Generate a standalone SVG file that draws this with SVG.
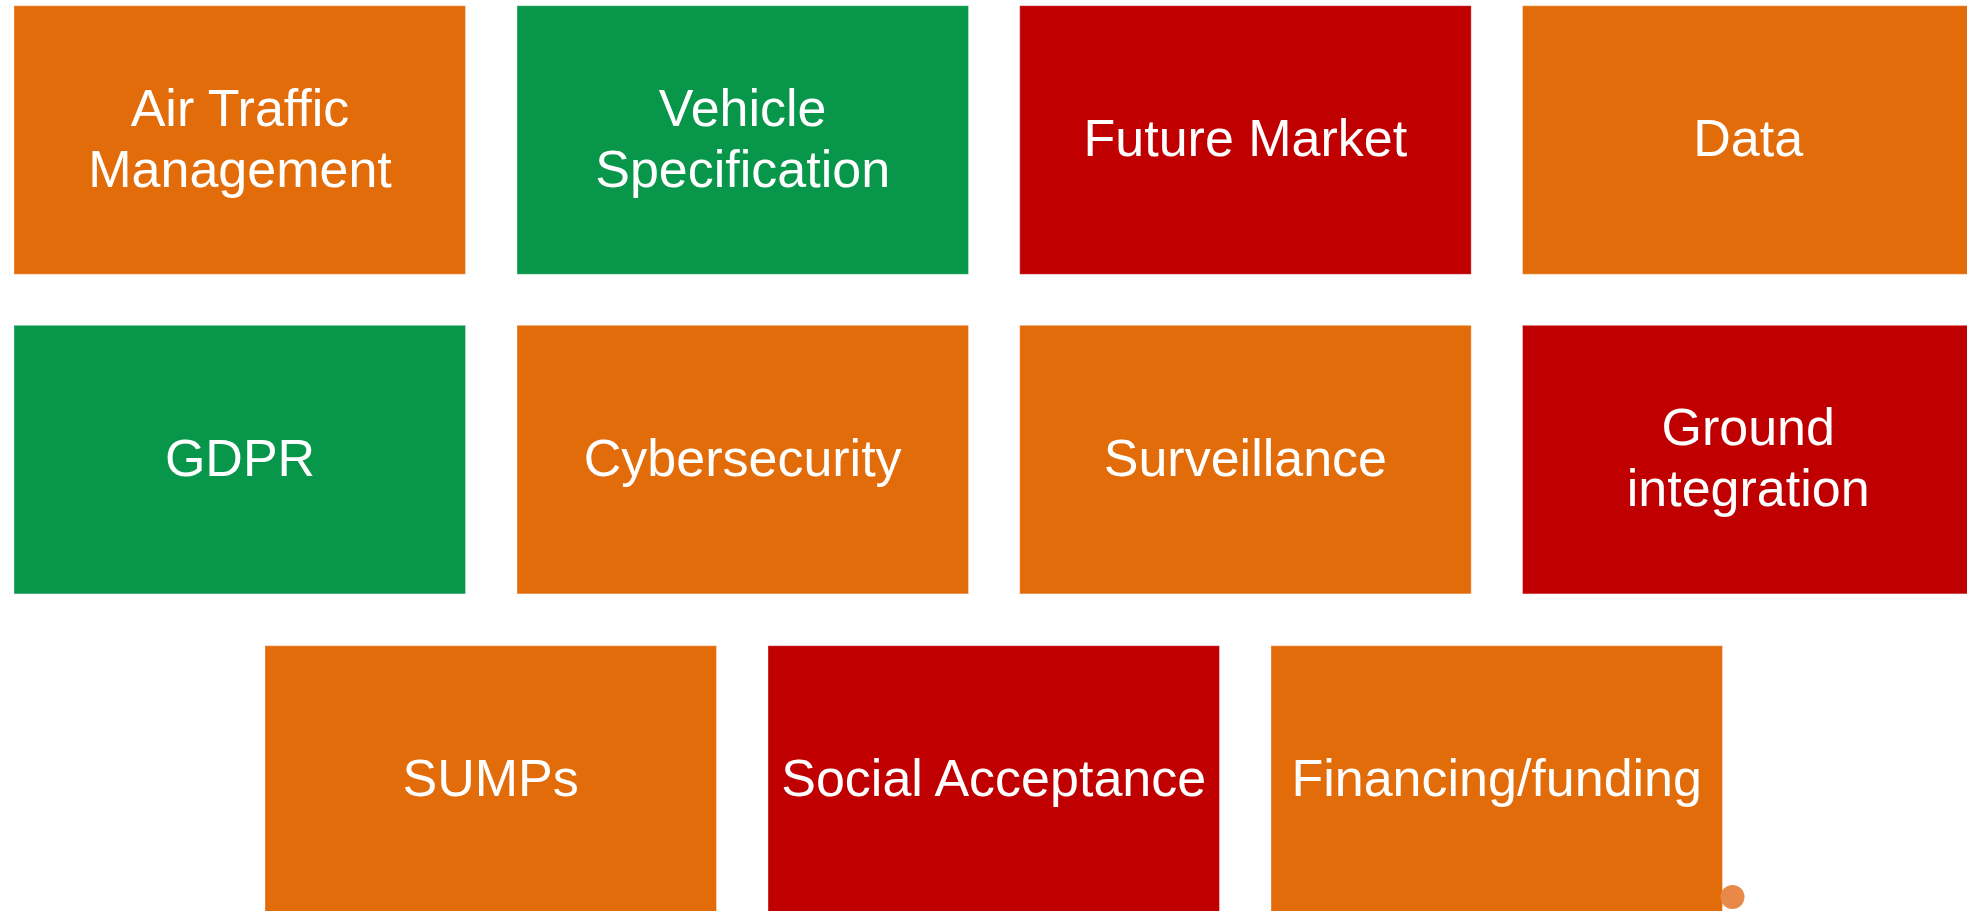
<svg xmlns="http://www.w3.org/2000/svg" width="1967" height="911" viewBox="0 0 1967 911">
<style>
.box{stroke:#ffffff;stroke-opacity:0.35;stroke-width:1}
.o{fill:#E36C0A}
.g{fill:#07964A}
.r{fill:#C00000}
text{font-family:"Liberation Sans",Arial,sans-serif;font-size:52px;fill:#ffffff;text-anchor:middle}
</style>
<rect width="1967" height="911" fill="#ffffff"/>
<g id="nodes">
<g id="n-atm"><rect class="box o" x="14" y="5.7" width="451.5" height="268.6"/><text x="240" y="125.7">Air Traffic</text><text x="240" y="186.7">Management</text></g>
<g id="n-vehicle"><rect class="box g" x="517" y="5.7" width="451.5" height="268.6"/><text x="742.7" y="125.7">Vehicle</text><text x="742.7" y="186.7">Specification</text></g>
<g id="n-future"><rect class="box r" x="1019.7" y="5.7" width="451.5" height="268.6"/><text x="1245.4" y="155.7">Future Market</text></g>
<g id="n-data"><rect class="box o" x="1522.5" y="5.7" width="451.5" height="268.6"/><text x="1748.2" y="155.7">Data</text></g>
<g id="n-gdpr"><rect class="box g" x="14" y="325.3" width="451.5" height="268.6"/><text x="240" y="475.5">GDPR</text></g>
<g id="n-cyber"><rect class="box o" x="517" y="325.3" width="451.5" height="268.6"/><text x="742.7" y="475.5">Cybersecurity</text></g>
<g id="n-surv"><rect class="box o" x="1019.7" y="325.3" width="451.5" height="268.6"/><text x="1245.4" y="475.5">Surveillance</text></g>
<g id="n-ground"><rect class="box r" x="1522.5" y="325.3" width="451.5" height="268.6"/><text x="1748.2" y="445">Ground</text><text x="1748.2" y="506">integration</text></g>
<g id="n-sumps"><rect class="box o" x="265" y="645.7" width="451.5" height="268.6"/><text x="490.7" y="795.5">SUMPs</text></g>
<g id="n-social"><rect class="box r" x="768" y="645.7" width="451.5" height="268.6"/><text x="993.7" y="795.5">Social Acceptance</text></g>
<g id="n-fin"><rect class="box o" x="1271" y="645.7" width="451.5" height="268.6"/><text x="1496.7" y="795.5">Financing/funding</text></g>
</g>
<g id="connectors"></g>
<circle cx="1732.5" cy="897" r="12" fill="#E8894A"/>
</svg>
